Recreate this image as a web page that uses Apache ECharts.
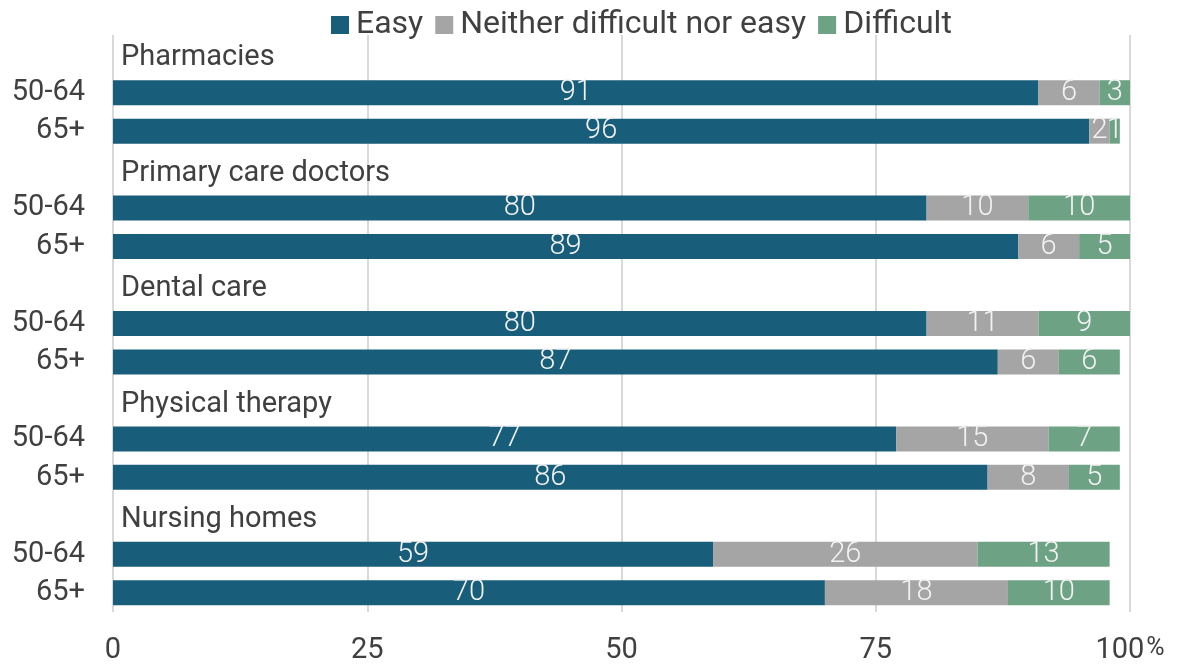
<!DOCTYPE html>
<html>
<head>
<meta charset="utf-8">
<script src="https://cdn.jsdelivr.net/npm/echarts@6/dist/echarts.min.js"></script>
<style>
  html, body { margin: 0; padding: 0; background: #fff; }
  #chart { width: 1188px; height: 665px; }
</style>
</head>
<body>
<div id="chart"></div>
<script>
/* ---------------- DATA ---------------- */

const GROUPS = [
  "Pharmacies",
  "Primary care doctors",
  "Dental care",
  "Physical therapy",
  "Nursing homes",
];

const AGES = ["50-64", "65+"];

// per group: [50-64, 65+]
const EASY = [[91, 96], [80, 89], [80, 87], [77, 86], [59, 70]];
const NEITHER = [[6, 2], [10, 6], [11, 6], [15, 8], [26, 18]];
const DIFFICULT = [[3, 1], [10, 5], [9, 6], [7, 5], [13, 10]];

const X_TICKS = [0, 25, 50, 75, 100];

const COLORS = {
  easy: "#185d7a",
  neither: "#a5a5a5",
  difficult: "#6ea285",
};

/* ---------------- BUILD ROWS ---------------- */

// each group takes 3 rows: header, 50-64, 65+
const rowLabels = [];
const headerData = [];
const easyData = [];
const neitherData = [];
const difficultData = [];

GROUPS.forEach((g, i) => {
  rowLabels.push("");
  headerData.push({ value: 0, name: g });
  easyData.push("-");
  neitherData.push("-");
  difficultData.push("-");
  AGES.forEach((a, j) => {
    rowLabels.push(a);
    headerData.push("-");
    easyData.push(EASY[i][j]);
    neitherData.push(NEITHER[i][j]);
    difficultData.push(DIFFICULT[i][j]);
  });
});

const FONT = "Roboto";
const TEXT = "#404040";

const barLabel = {
  show: true,
  position: "inside",
  color: "#f2f2f2",
  fontFamily: FONT,
  fontWeight: 300,
  fontSize: 29,
};

function stackSeries(name, data, color) {
  return {
    name,
    type: "bar",
    stack: "total",
    data,
    barWidth: 25,
    itemStyle: { color },
    label: barLabel,
    emphasis: { disabled: true },
  };
}

/* ---------------- CHART ---------------- */

const chart = echarts.init(document.getElementById("chart"));

chart.setOption({
  animation: false,
  textStyle: { fontFamily: FONT },
  legend: {
    data: ["Easy", "Neither difficult nor easy", "Difficult"],
    top: 4,
    left: 326,
    itemWidth: 18,
    itemHeight: 18,
    itemGap: 12,
    icon: "rect",
    textStyle: { fontSize: 32, color: TEXT, fontFamily: FONT, padding: [0, 0, 0, 2] },
  },
  grid: {
    left: 113,
    right: 58,
    top: 35,
    bottom: 51,
  },
  xAxis: {
    type: "value",
    min: 0,
    max: 100,
    interval: 25,
    axisLine: { show: false },
    axisTick: { show: false },
    splitLine: { lineStyle: { color: "#d9d9d9", width: 2 } },
    axisLabel: {
      margin: 24,
      fontSize: 29,
      color: TEXT,
      fontFamily: FONT,
      formatter: (v) => (v === 100 ? "{n|100}{p|%}" : String(v)),
      rich: {
        n: { fontSize: 29, color: TEXT, fontFamily: FONT },
        p: { fontSize: 25, color: TEXT, fontFamily: FONT, padding: [0, 0, 3, 2] },
      },
    },
  },
  yAxis: {
    type: "category",
    inverse: true,
    data: rowLabels,
    axisLine: { show: false },
    axisTick: { show: false },
    axisLabel: {
      margin: 28,
      fontSize: 29,
      color: TEXT,
      fontFamily: FONT,
    },
  },
  series: [
    stackSeries("Easy", easyData, COLORS.easy),
    stackSeries("Neither difficult nor easy", neitherData, COLORS.neither),
    stackSeries("Difficult", difficultData, COLORS.difficult),
    {
      name: "header",
      type: "bar",
      stack: "total",
      data: headerData,
      barWidth: 25,
      itemStyle: { color: "transparent" },
      silent: true,
      label: {
        show: true,
        position: "right",
        distance: 8,
        formatter: (p) => p.name,
        color: TEXT,
        fontFamily: FONT,
        fontSize: 29,
        offset: [0, 4],
      },
    },
  ],
});
</script>
</body>
</html>
